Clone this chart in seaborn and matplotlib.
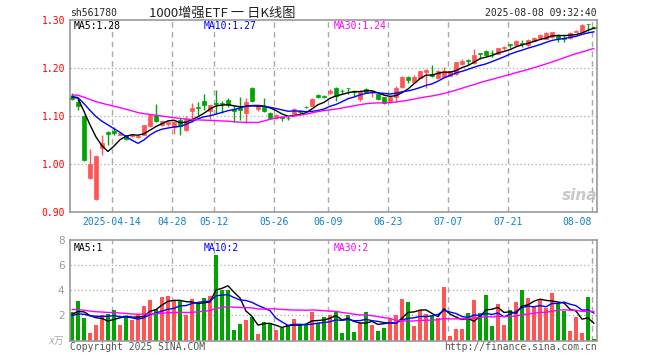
import numpy as np
import pandas as pd
import seaborn as sns
import matplotlib
matplotlib.use('Agg')
import matplotlib.pyplot as plt

# daily K data, 2025-04-02 .. 2025-08-08 (88 trading days)
open_ = [1.138, 1.129, 1.100, 0.971, 0.928, 1.033, 1.067, 1.068, 1.061, 1.059,
         1.057, 1.056, 1.061, 1.079, 1.102, 1.081, 1.083, 1.077, 1.092, 1.070,
         1.109, 1.119, 1.131, 1.110, 1.127, 1.126, 1.133, 1.114, 1.116, 1.106,
         1.158, 1.113, 1.118, 1.106, 1.095, 1.097, 1.096, 1.102, 1.109, 1.119,
         1.121, 1.144, 1.140, 1.147, 1.158, 1.152, 1.158, 1.151, 1.134, 1.155,
         1.150, 1.146, 1.138, 1.130, 1.139, 1.159, 1.180, 1.170, 1.179, 1.191,
         1.186, 1.179, 1.181, 1.183, 1.187, 1.207, 1.215, 1.210, 1.230, 1.235,
         1.231, 1.229, 1.240, 1.249, 1.248, 1.251, 1.246, 1.256, 1.261, 1.260,
         1.263, 1.268, 1.261, 1.261, 1.275, 1.275, 1.291, 1.284]
high_ = [1.147, 1.135, 1.102, 1.030, 1.016, 1.061, 1.069, 1.077, 1.067, 1.060,
         1.062, 1.059, 1.081, 1.103, 1.124, 1.090, 1.090, 1.090, 1.096, 1.100,
         1.127, 1.129, 1.146, 1.123, 1.154, 1.131, 1.136, 1.123, 1.140, 1.137,
         1.160, 1.121, 1.137, 1.108, 1.103, 1.100, 1.099, 1.117, 1.111, 1.121,
         1.137, 1.145, 1.143, 1.155, 1.160, 1.156, 1.158, 1.153, 1.153, 1.157,
         1.152, 1.147, 1.139, 1.142, 1.162, 1.182, 1.182, 1.184, 1.193, 1.197,
         1.205, 1.195, 1.201, 1.194, 1.212, 1.217, 1.218, 1.239, 1.230, 1.236,
         1.237, 1.241, 1.244, 1.249, 1.257, 1.258, 1.259, 1.263, 1.269, 1.273,
         1.275, 1.269, 1.267, 1.274, 1.279, 1.290, 1.291, 1.285]
low_ = [1.133, 1.112, 1.007, 0.969, 0.925, 1.019, 1.040, 1.061, 1.059, 1.050,
        1.055, 1.053, 1.060, 1.077, 1.088, 1.078, 1.078, 1.062, 1.061, 1.068,
        1.086, 1.102, 1.112, 1.093, 1.104, 1.105, 1.118, 1.088, 1.092, 1.085,
        1.128, 1.110, 1.107, 1.093, 1.093, 1.090, 1.092, 1.100, 1.104, 1.116,
        1.120, 1.136, 1.137, 1.145, 1.131, 1.146, 1.145, 1.141, 1.131, 1.148,
        1.138, 1.133, 1.124, 1.127, 1.129, 1.158, 1.169, 1.169, 1.178, 1.158,
        1.181, 1.177, 1.180, 1.182, 1.185, 1.205, 1.206, 1.208, 1.218, 1.225,
        1.222, 1.228, 1.237, 1.240, 1.247, 1.243, 1.245, 1.255, 1.260, 1.259,
        1.261, 1.254, 1.253, 1.260, 1.274, 1.273, 1.277, 1.281]
close_ = [1.135, 1.121, 1.009, 0.999, 1.016, 1.043, 1.062, 1.065, 1.065, 1.052,
          1.059, 1.057, 1.080, 1.102, 1.090, 1.089, 1.086, 1.086, 1.078, 1.093,
          1.116, 1.117, 1.122, 1.122, 1.125, 1.124, 1.123, 1.109, 1.112, 1.129,
          1.130, 1.119, 1.109, 1.095, 1.101, 1.095, 1.095, 1.115, 1.108, 1.118,
          1.135, 1.139, 1.139, 1.151, 1.141, 1.151, 1.157, 1.150, 1.152, 1.150,
          1.151, 1.135, 1.126, 1.139, 1.158, 1.181, 1.174, 1.180, 1.192, 1.195,
          1.182, 1.192, 1.192, 1.192, 1.211, 1.213, 1.214, 1.226, 1.229, 1.227,
          1.230, 1.240, 1.242, 1.248, 1.256, 1.250, 1.257, 1.261, 1.268, 1.271,
          1.273, 1.261, 1.260, 1.272, 1.277, 1.289, 1.290, 1.283]
# volume, unit 万
vol = [2.30, 3.15, 1.78, 0.62, 1.24, 2.02, 2.11, 2.47, 1.22, 1.86,
       1.67, 2.12, 2.75, 3.25, 2.53, 3.48, 3.58, 3.14, 3.24, 2.04,
       3.32, 3.00, 3.40, 3.58, 6.77, 4.00, 4.00, 0.85, 1.30, 1.62,
       1.85, 0.55, 1.45, 1.40, 0.85, 1.00, 1.25, 1.70, 1.30, 1.30,
       2.30, 1.40, 1.90, 2.00, 2.33, 0.61, 2.00, 0.69, 1.40, 2.28,
       1.27, 0.80, 1.00, 1.75, 2.04, 3.34, 3.08, 1.19, 2.47, 2.12,
       1.94, 1.80, 4.27, 0.40, 0.95, 0.95, 2.20, 3.24, 2.20, 3.63,
       1.17, 2.94, 1.25, 2.44, 3.08, 4.03, 3.40, 2.70, 3.24, 2.60,
       3.80, 2.97, 2.33, 0.77, 1.88, 0.58, 3.47, 0.16]

# March closes / volumes (off-chart, estimated) so the moving averages start where the chart does
pre_close = [1.128, 1.135, 1.142, 1.150, 1.147, 1.153, 1.158, 1.149, 1.155, 1.162,
             1.160, 1.152, 1.146, 1.139, 1.144, 1.137, 1.131, 1.128, 1.134, 1.140,
             1.143, 1.136, 1.138, 1.145, 1.141, 1.137, 1.144, 1.139, 1.142]
pre_vol = [3.4, 3.1, 2.9, 2.6, 2.8, 3.2, 2.5, 2.4, 2.9, 3.0,
           2.7, 2.3, 2.5, 2.6, 2.4, 2.2, 2.8, 2.6, 2.5, 2.9,
           1.7, 2.1, 1.8, 1.6, 2.2, 2.0, 1.9, 2.1, 2.1]

tick_idx = [7, 17, 24, 34, 43, 53, 63, 73, 87]
tick_labels = ['2025-04-14', '04-28', '05-12', '05-26', '06-09',
               '06-23', '07-07', '07-21', '08-08']

sns.set_theme(style='white')
plt.rcParams['font.family'] = ['DejaVu Sans Mono', 'Noto Sans CJK SC']

n = len(close_)
df = pd.DataFrame({'i': np.arange(n), 'open': open_, 'high': high_,
                   'low': low_, 'close': close_, 'vol': vol})
df['dir'] = np.where(df['close'] >= df['open'], 'up', 'down')
k = len(pre_close)
cs = pd.Series(pre_close + close_)
vs = pd.Series(pre_vol + vol)
for w in (5, 10, 30):
    df[f'ma{w}'] = cs.rolling(w).mean().iloc[k:].values
    df[f'vma{w}'] = vs.rolling(w).mean().iloc[k:].values

RED = '#ff5555'
GREEN = '#00a400'
pal = {'up': RED, 'down': GREEN}
ma_colors = {5: 'black', 10: '#0000ff', 30: '#ff00ff'}

W, H = 660, 360
fig = plt.figure(figsize=(6.6, 3.6), dpi=100)


def box(l, t, r, b):
    return [l / W, 1 - b / H, (r - l) / W, (b - t) / H]


def px(x, y):
    return x / W, 1 - y / H


ax = fig.add_axes(box(70, 19.5, 597, 212))
axv = fig.add_axes(box(70, 239.7, 597, 340.7))

for a in (ax, axv):
    for t in tick_idx:
        a.axvline(t - 0.3, color='#aaaaaa', lw=1, ls=(0, (4, 3)), zorder=0)
    for s in a.spines.values():
        s.set_color('#999999')
        s.set_linewidth(1.2)
for y in [1.0, 1.1, 1.2]:
    ax.axhline(y, color='#aaaaaa', lw=0.9, ls=(0, (1, 2)), zorder=0)
for y in [2, 4, 6]:
    axv.axhline(y, color='#aaaaaa', lw=0.9, ls=(0, (1, 2)), zorder=0)

# candles
colors = df['dir'].map(pal)
ax.vlines(df['i'], df['low'], df['high'], colors=colors, lw=1, zorder=2)
body = np.maximum((df['close'] - df['open']).abs(), 0.0012)
ax.bar(df['i'], body, bottom=np.minimum(df['open'], df['close']),
       width=0.72, color=colors, edgecolor=colors, linewidth=0.5, zorder=3)
for w, c in ma_colors.items():
    sns.lineplot(x=df['i'], y=df[f'ma{w}'], color=c, lw=1, ax=ax, zorder=4)

# volume
sns.barplot(data=df, x='i', y='vol', hue='dir', palette=pal, dodge=False,
            width=0.8, saturation=1, legend=False, ax=axv, zorder=2,
            linewidth=0)
for w, c in ma_colors.items():
    sns.lineplot(x=df['i'], y=df[f'vma{w}'], color=c, lw=1, ax=axv, zorder=4)

ax.set_xlim(-0.33, 87.5)
ax.set_ylim(0.9, 1.3)
axv.set_xlim(-0.33, 87.5)
axv.set_ylim(0, 8)

ax.set_yticks([0.9, 1.0, 1.1, 1.2, 1.3])
ax.set_yticklabels([f'{v:.2f}' for v in [0.9, 1.0, 1.1, 1.2, 1.3]],
                   color='#ff0000', fontsize=7)
ax.set_xticks([t - 0.3 for t in tick_idx])
ax.set_xticklabels(tick_labels, color='#0a80d0', fontsize=7)
ax.get_xticklabels()[-1].set_horizontalalignment('right')
ax.tick_params(length=0, pad=3.5)
ax.set_xlabel('')
ax.set_ylabel('')

axv.set_yticks([2, 4, 6, 8])
axv.set_yticklabels(['2', '4', '6', '8'], color='#999999', fontsize=7.5,
                    family='DejaVu Sans')
axv.set_xticks([])
axv.tick_params(length=0, pad=4)
axv.set_xlabel('')
axv.set_ylabel('')

# header / labels
fs = 7
fig.text(*px(70, 13), 'sh561780', fontsize=fs, va='center', ha='left')
fig.text(*px(222, 13), '1000增强ETF 一 日K线图', fontsize=9.5, va='center', ha='center',
         family=['Noto Sans CJK SC', 'DejaVu Sans'], color='#222222')
fig.text(*px(597, 13), '2025-08-08 09:32:40', fontsize=fs, va='center', ha='right')

fig.text(*px(74, 26), f"MA5:{df['ma5'].iloc[-1]:.2f}", fontsize=fs, va='center', color='black')
fig.text(*px(204, 26), f"MA10:{df['ma10'].iloc[-1]:.2f}", fontsize=fs, va='center', color='#0000ff')
fig.text(*px(334, 26), f"MA30:{df['ma30'].iloc[-1]:.2f}", fontsize=fs, va='center', color='#ff00ff')

fig.text(*px(74, 248), f"MA5:{df['vma5'].iloc[-1]:.0f}", fontsize=fs, va='center', color='black')
fig.text(*px(204, 248), f"MA10:{df['vma10'].iloc[-1]:.0f}", fontsize=fs, va='center', color='#0000ff')
fig.text(*px(334, 248), f"MA30:{df['vma30'].iloc[-1]:.0f}", fontsize=fs, va='center', color='#ff00ff')

fig.text(*px(64, 341), 'x万', fontsize=7, va='center', ha='right', color='#aaaaaa',
         style='italic', family=['DejaVu Sans', 'Noto Sans CJK SC'])
fig.text(*px(70, 347), 'Copyright 2025 SINA.COM', fontsize=fs, va='center', ha='left', color='#555555')
fig.text(*px(597, 347), 'http://finance.sina.com.cn', fontsize=fs, va='center', ha='right', color='#555555')

# watermark
fig.text(*px(580, 196), 'sina', fontsize=11, va='center', ha='center', color='#bbbbbb',
         style='italic', weight='bold', family='DejaVu Sans', alpha=0.8)

fig.savefig('out.png', dpi=100)
